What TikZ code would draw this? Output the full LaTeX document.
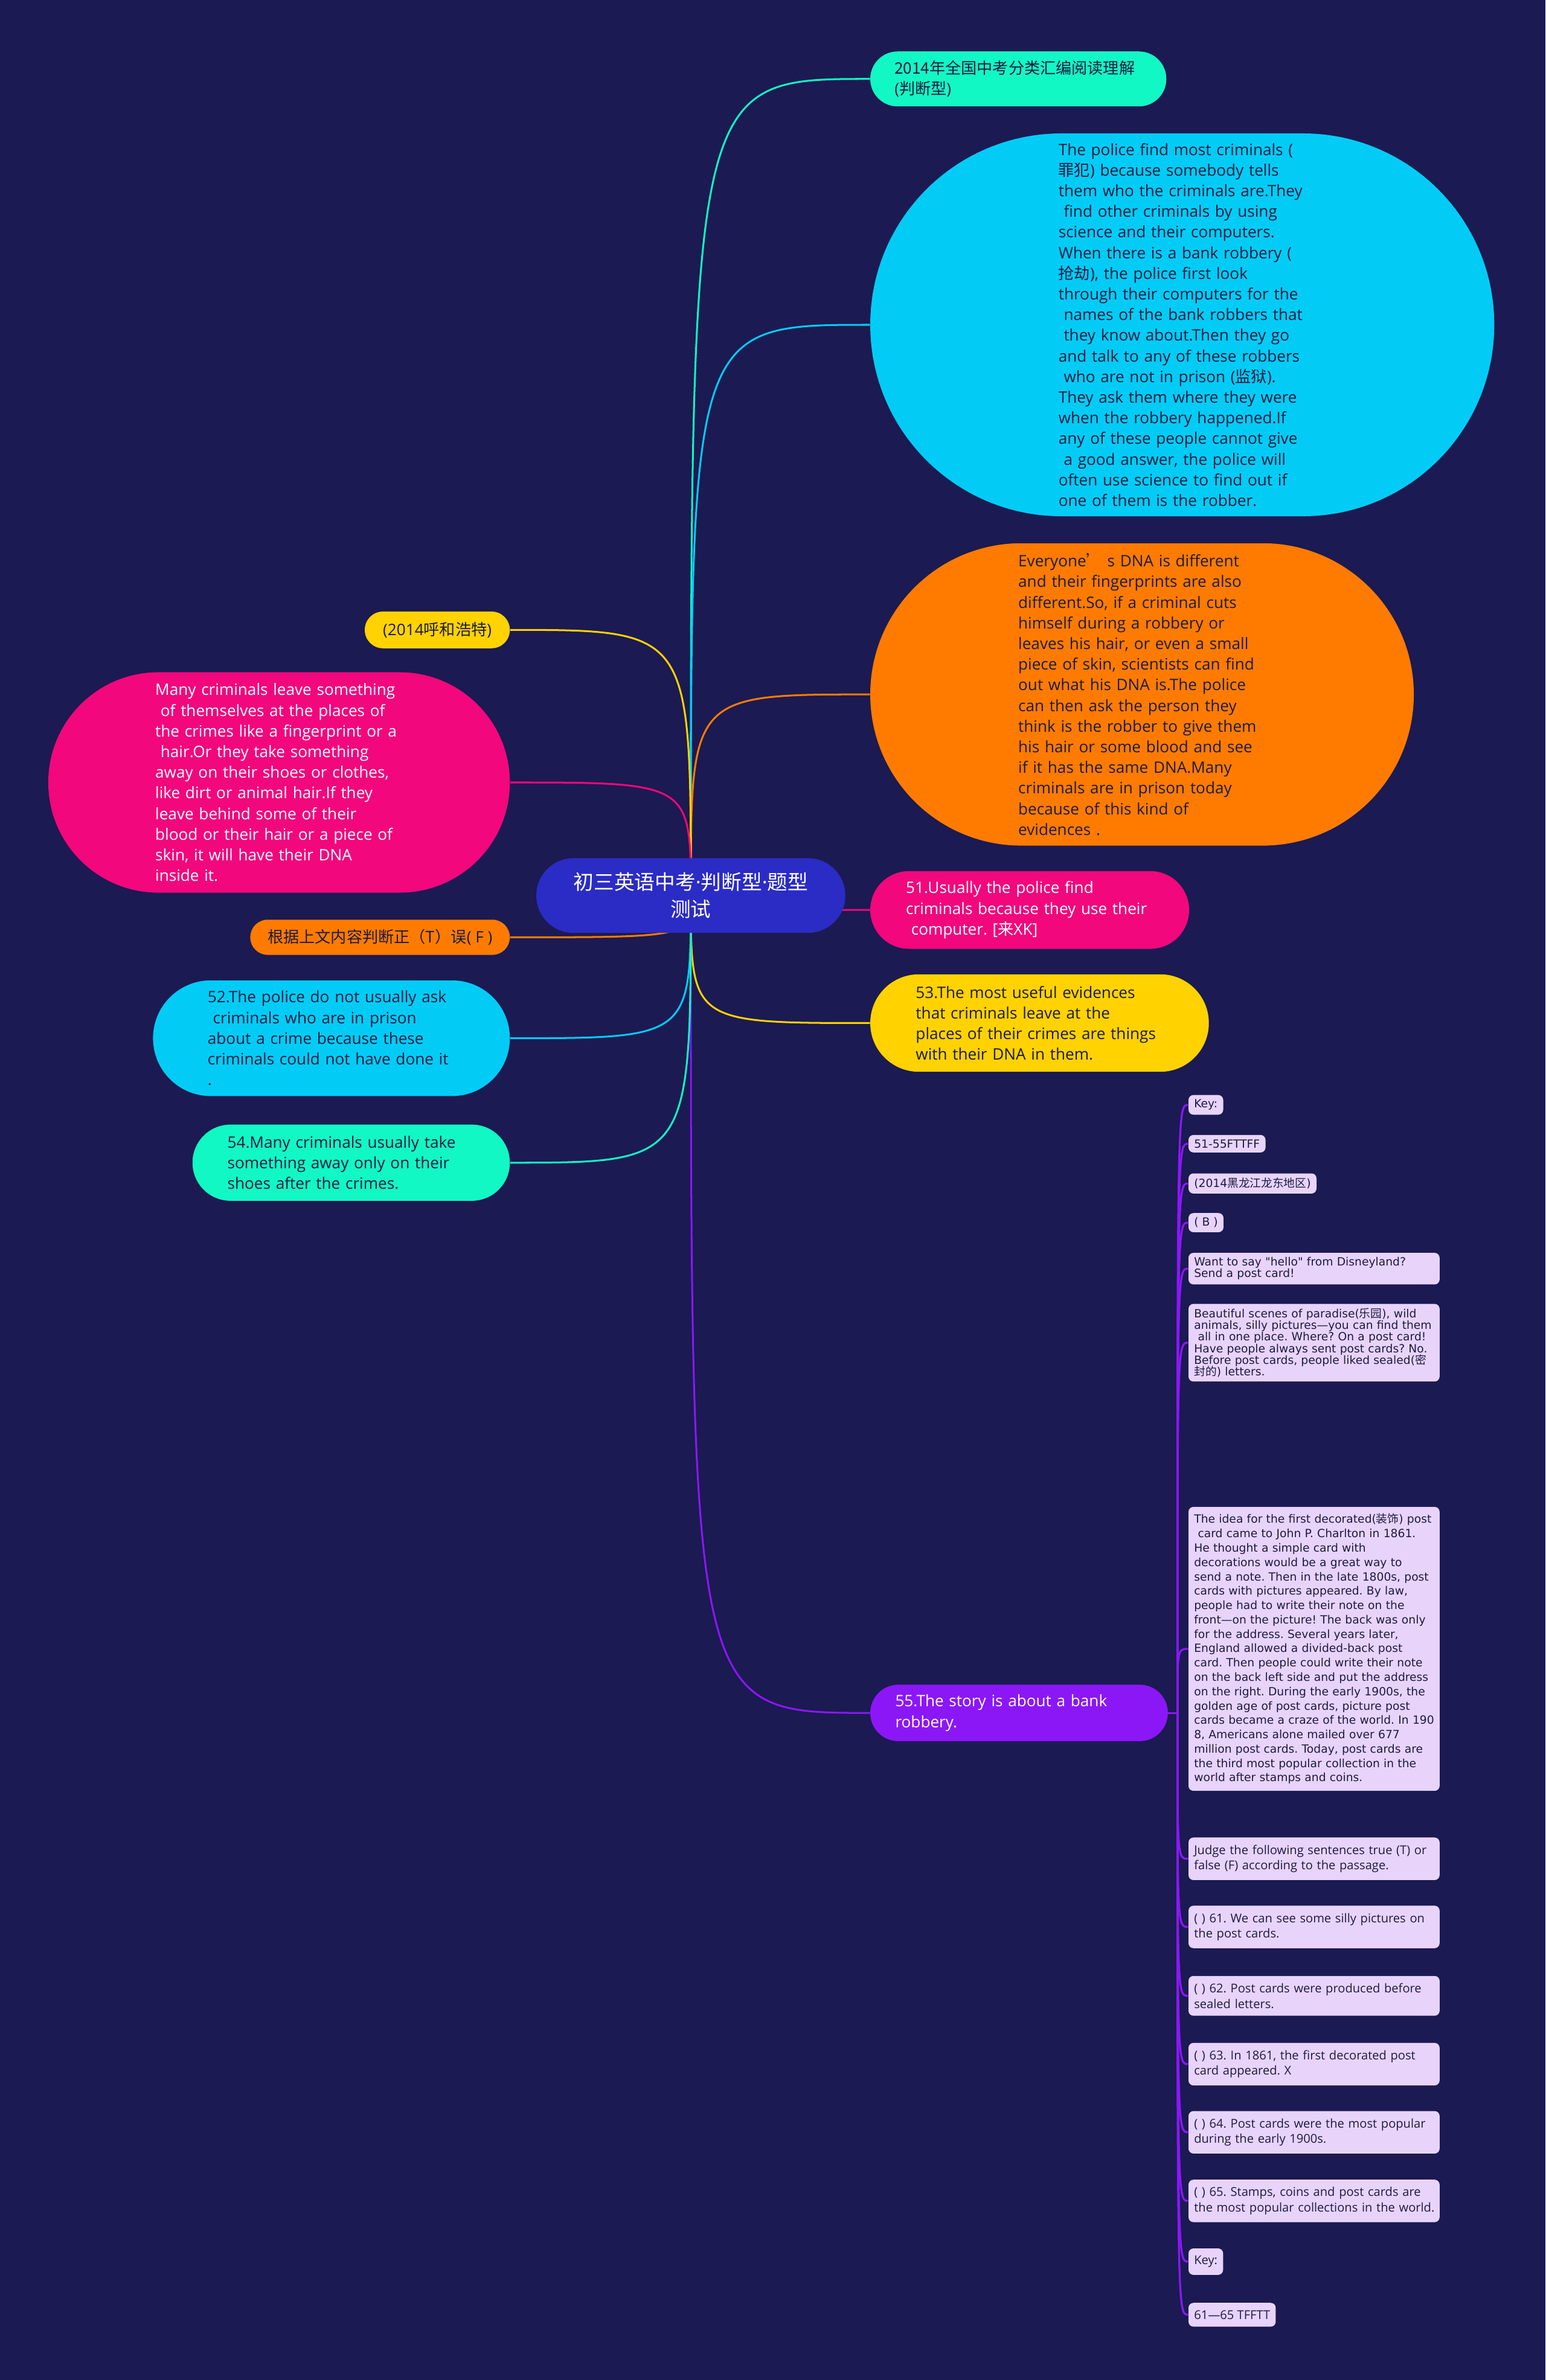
\documentclass[tikz,border=0pt]{standalone}
\usepackage{fontspec}
\setmainfont{Open Sans}
\newfontfamily\verd{DejaVu Sans}
\newfontfamily\cjk{Noto Sans CJK SC}
\usepackage{xcolor}
\usepackage{tikz}
\usetikzlibrary{calc}
\frenchspacing

\definecolor{bgnavy}{HTML}{1B1A52}
\definecolor{cRoot}{HTML}{2B2BC6}
\definecolor{cTeal}{HTML}{12F8C4}
\definecolor{cCyan}{HTML}{02CCF5}
\definecolor{cOrange}{HTML}{FF7B00}
\definecolor{cPink}{HTML}{F2077C}
\definecolor{cYellow}{HTML}{FFD200}
\definecolor{cPurple}{HTML}{8B17F7}
\definecolor{lav}{HTML}{E8D4FB}
\definecolor{ink}{HTML}{1C1B40}

\pgfdeclarelayer{back}
\pgfsetlayers{back,main}

\tikzset{
  pill/.style={rectangle, minimum height=2*#1pt+0.2pt, inner xsep=#1pt, inner ysep=0pt,
    rounded corners=#1pt, align=left, text=ink,
    font=\fontsize{10.4}{13.6}\selectfont},
  wpill/.style={pill=#1, text width=163pt, inner xsep=#1pt-2pt},
  edge/.style={draw=#1, line width=1.2pt},
  panelbox/.style={fill=lav, rounded corners=3.3pt, anchor=west, inner xsep=3.7pt,
    inner ysep=3pt, text=ink, align=left,
    font={\verd\fontsize{7.45}{7.6}\selectfont\lineskiplimit=-5pt}},
  widebox/.style={panelbox, text width=158pt},
  quizbox/.style={panelbox, inner ysep=4.9pt,
    font={\fontsize{8}{10.2}\selectfont\lineskiplimit=-5pt}},
}

\begin{document}
\begin{tikzpicture}[x=1pt,y=-1pt]
\useasboundingbox (0,0) rectangle (1018,1568);

% centre
\node[pill=24.5, fill=cRoot, text=white, align=center,
  font=\fontsize{13.4}{18}\selectfont] (root) at (455,590)
  {{\cjk 初三英语中考}·{\cjk 判断型}·{\cjk 题型}\\{\cjk 测试}};

% right side
\node[wpill=18, fill=cTeal, anchor=west] (r1) at (573,52)
  {{\cjk 2014年全国中考分类汇编阅读理解}\\({\cjk 判断型})};
\node[wpill=126, fill=cCyan, anchor=west] (r2) at (573,214)
  {The police find most criminals (\\
   {\cjk 罪犯}) because somebody tells\\
   them who the criminals are.They\\
   \ find other criminals by using\\
   science and their computers.\\
   When there is a bank robbery (\\
   {\cjk 抢劫}), the police first look\\
   through their computers for the\\
   \ names of the bank robbers that\\
   \ they know about.Then they go\\
   and talk to any of these robbers\\
   \ who are not in prison ({\cjk 监狱}).\\
   They ask them where they were\\
   when the robbery happened.If\\
   any of these people cannot give\\
   \ a good answer, the police will\\
   often use science to find out if\\
   one of them is the robber.};
\node[wpill=99.5, fill=cOrange, anchor=west] (r3) at (573,457.5)
  {Everyone{\cjk ’} s DNA is different\\
   and their fingerprints are also\\
   different.So, if a criminal cuts\\
   himself during a robbery or\\
   leaves his hair, or even a small\\
   piece of skin, scientists can find\\
   out what his DNA is.The police\\
   can then ask the person they\\
   think is the robber to give them\\
   his hair or some blood and see\\
   if it has the same DNA.Many\\
   criminals are in prison today\\
   because of this kind of\\
   evidences .};
\node[wpill=25.5, fill=cPink, text=white, anchor=west] (r4) at (573,599.5)
  {51.Usually the police find\\
   criminals because they use their\\
   \ computer. [{\cjk 来}XK]};
\node[wpill=32, fill=cYellow, anchor=west] (r5) at (573,674)
  {53.The most useful evidences\\
   that criminals leave at the\\
   places of their crimes are things\\
   with their DNA in them.};
\node[wpill=18.5, fill=cPurple, text=white, anchor=west] (r6) at (573,1128.5)
  {55.The story is about a bank\\robbery.};

% left side
\node[pill=12, fill=cYellow, anchor=east] (l1) at (336,415) {(2014{\cjk 呼和浩特})};
\node[wpill=72.5, fill=cPink, text=white, anchor=east] (l2) at (336,515.5)
  {Many criminals leave something\\
   \ of themselves at the places of\\
   the crimes like a fingerprint or a\\
   \ hair.Or they take something\\
   away on their shoes or clothes,\\
   like dirt or animal hair.If they\\
   leave behind some of their\\
   blood or their hair or a piece of\\
   skin, it will have their DNA\\
   inside it.};
\node[pill=11.5, fill=cOrange, anchor=east] (l3) at (336,617.5)
  {{\cjk 根据上文内容判断正（T）误}( F )};
\node[wpill=38, fill=cCyan, anchor=east] (l4) at (336,684)
  {52.The police do not usually ask\\
   \ criminals who are in prison\\
   about a crime because these\\
   criminals could not have done it\\
   .};
\node[wpill=25, fill=cTeal, anchor=east] (l5) at (336,766)
  {54.Many criminals usually take\\
   something away only on their\\
   shoes after the crimes.};

% key and reading passage under 55
\coordinate (hub) at (775.5,1128.5);
\node[panelbox] (p1) at (782.6,727.9) {Key:};
\node[panelbox] (p2) at (782.6,753.5) {51-55FTTFF};
\node[panelbox] (p3) at (782.6,779.7) {(2014{\cjk 黑龙江龙东地区})};
\node[panelbox] (p4) at (782.6,805.5) {( B )};
\node[widebox] (p5) at (782.6,835.8)
  {Want to say "hello" from Disneyland?\\Send a post card!};
\node[widebox] (p6) at (782.6,884.6)
  {Beautiful scenes of paradise({\cjk 乐园}), wild\\
   animals, silly pictures—you can find them\\
   \ all in one place. Where? On a post card!\\
   Have people always sent post cards? No.\\
   Before post cards, people liked sealed({\cjk 密}\\
   {\cjk 封的}) letters.};
\node[widebox, inner ysep=4.5pt,
  font={\verd\fontsize{7.45}{9.46}\selectfont\lineskiplimit=-5pt}] (p7) at (782.6,1086.3)
  {The idea for the first decorated({\cjk 装饰}) post\\
   \ card came to John P. Charlton in 1861.\\
   He thought a simple card with\\
   decorations would be a great way to\\
   send a note. Then in the late 1800s, post\\
   cards with pictures appeared. By law,\\
   people had to write their note on the\\
   front—on the picture! The back was only\\
   for the address. Several years later,\\
   England allowed a divided-back post\\
   card. Then people could write their note\\
   on the back left side and put the address\\
   on the right. During the early 1900s, the\\
   golden age of post cards, picture post\\
   \mbox{cards became a craze of the world. In 190}\\
   8, Americans alone mailed over 677\\
   million post cards. Today, post cards are\\
   the third most popular collection in the\\
   world after stamps and coins.};
\node[quizbox, text width=158pt] (p8) at (782.6,1224.6)
  {Judge the following sentences true (T) or\\false (F) according to the passage.};
\node[quizbox, text width=158pt] (p9) at (782.6,1269.5)
  {( ) 61. We can see some silly pictures on\\the post cards.};
\node[quizbox, text width=158pt] (p10) at (782.6,1314.9)
  {( ) 62. Post cards were produced before\\sealed letters.};
\node[quizbox, text width=158pt] (p11) at (782.6,1359.9)
  {( ) 63. In 1861, the first decorated post\\card appeared. X};
\node[quizbox, text width=158pt] (p12) at (782.6,1404.8)
  {( ) 64. Post cards were the most popular\\during the early 1900s.};
\node[quizbox, text width=158pt] (p13) at (782.6,1450)
  {( ) 65. Stamps, coins and post cards are\\\mbox{the most popular collections in the world.}};
\node[quizbox] (p14) at (782.6,1490) {Key:};
\node[quizbox] (p15) at (782.6,1525) {61—65 TFFTT};

\begin{pgfonlayer}{back}
\fill[bgnavy] (0,0) rectangle (1018,1568);
\foreach \n/\c in {r1/cTeal,r2/cCyan,r3/cOrange,r4/cPink,r5/cYellow,r6/cPurple}
  \draw[edge=\c] (root.center) .. controls (root.center |- \n.west) .. (\n.west);
\foreach \n/\c in {l1/cYellow,l2/cPink,l3/cOrange,l4/cCyan,l5/cTeal}
  \draw[edge=\c] (root.center) .. controls (root.center |- \n.east) .. (\n.east);
\draw[edge=cPurple] (r6.east) -- (hub);
\foreach \i in {1,...,15}
  \draw[edge=cPurple, line width=1.3pt] (hub) .. controls (hub |- p\i.west) .. (p\i.west);
\end{pgfonlayer}

\end{tikzpicture}
\end{document}
